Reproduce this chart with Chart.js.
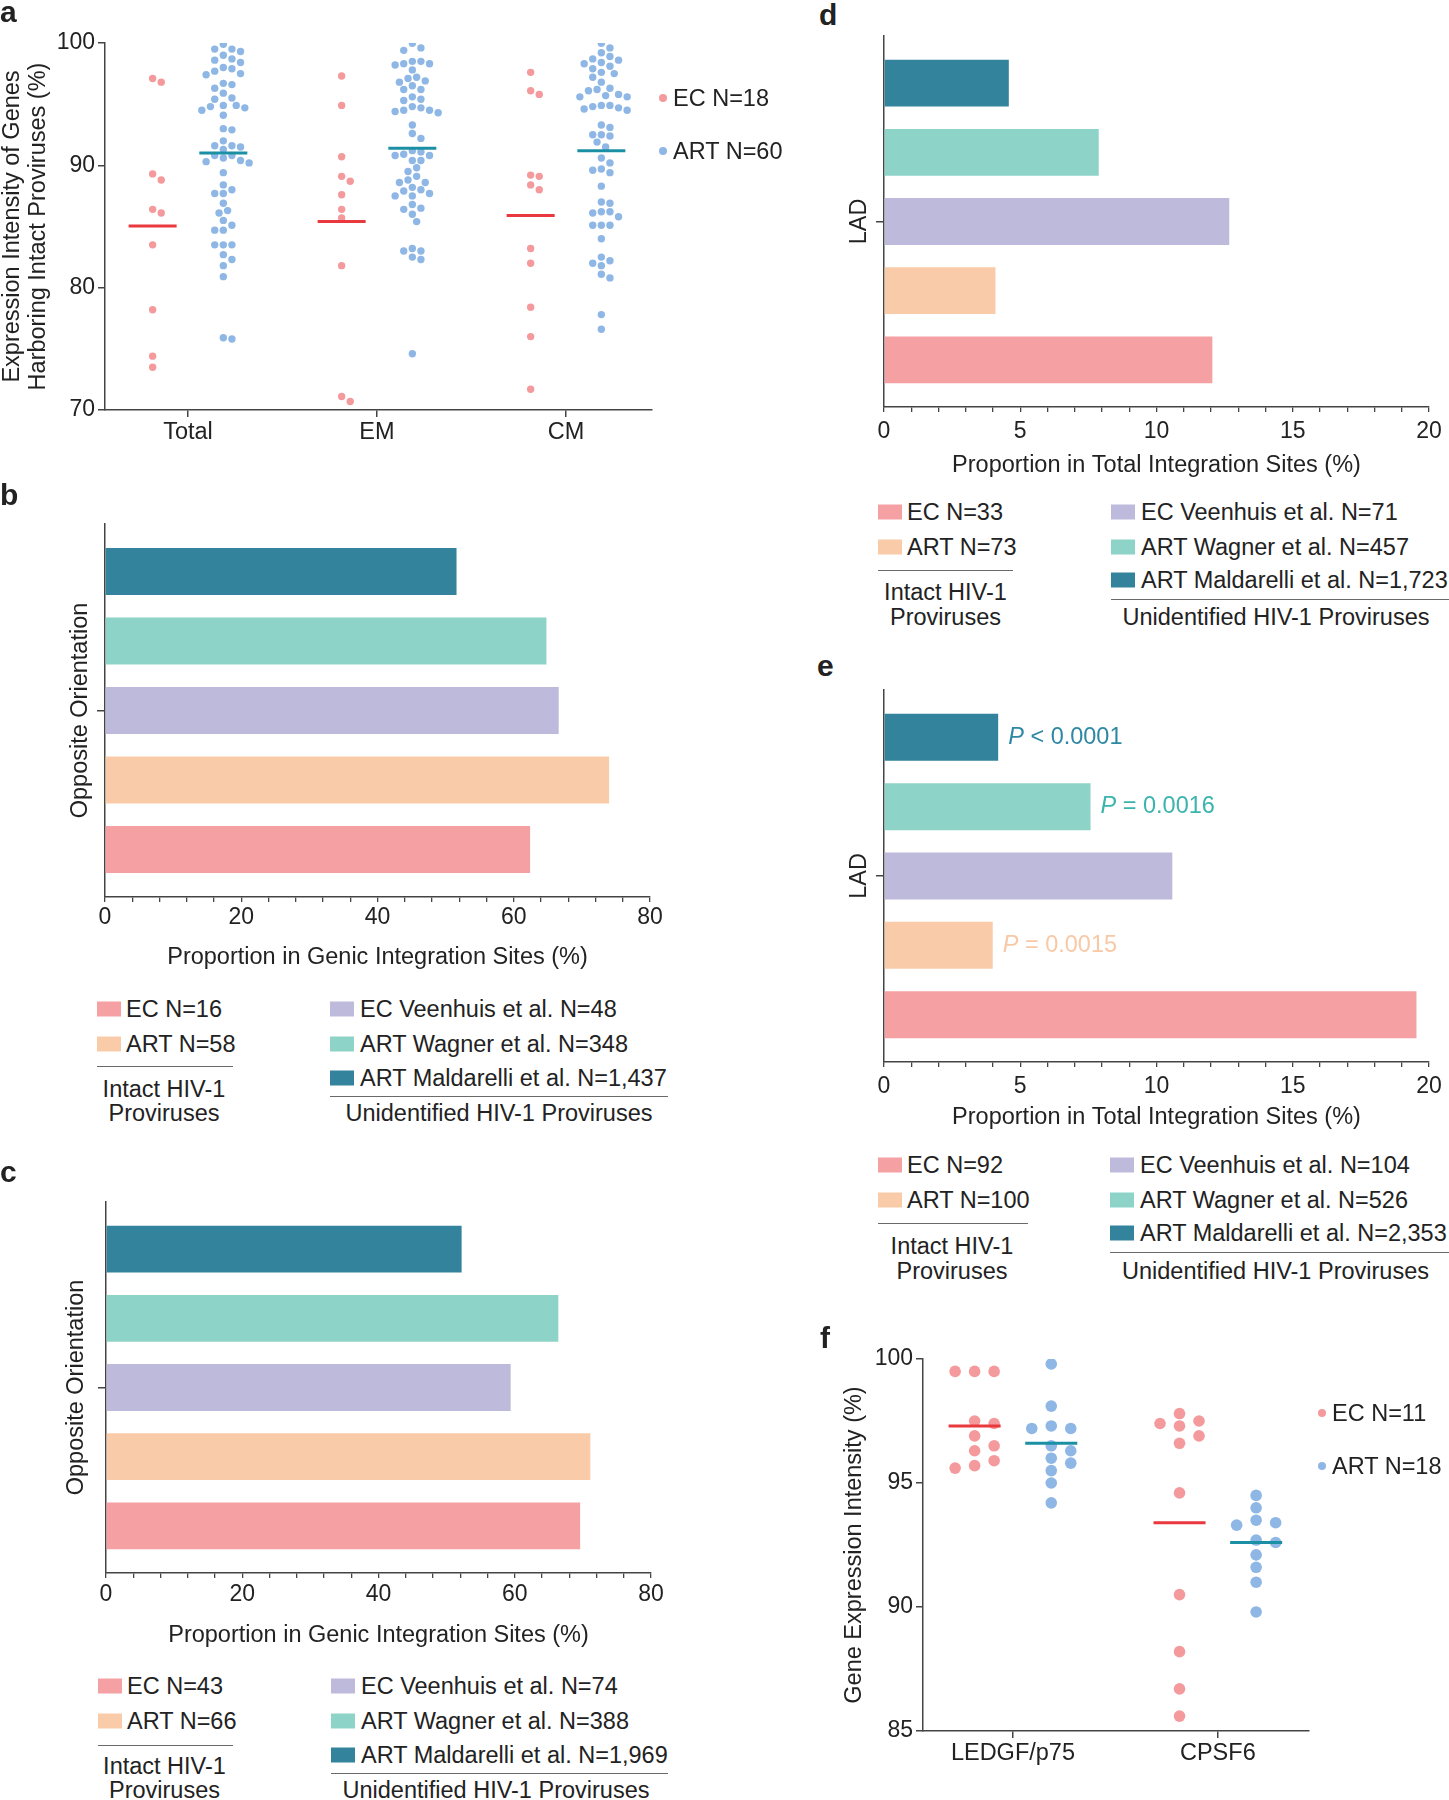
<!DOCTYPE html>
<html><head><meta charset="utf-8">
<script src="https://cdn.jsdelivr.net/npm/chart.js@4.4.1/dist/chart.umd.min.js"></script>
<style>
body{margin:0;background:#fff;}
#page{position:relative;width:1449px;height:1800px;overflow:hidden;font-family:'Liberation Sans',Arial,Helvetica,sans-serif;color:#222;}
.box{position:absolute;}
.lbl{position:absolute;font-size:23.5px;line-height:27px;white-space:nowrap;transform:translateY(-50%);}
.sw{position:absolute;width:24px;height:15px;transform:translateY(-50%);}
.rule{position:absolute;height:0;border-top:1.5px solid #6a6a6a;}
.dot{position:absolute;border-radius:50%;}
.letter{position:absolute;font-weight:bold;font-size:30px;line-height:30px;transform:translateY(-50%);}
</style></head>
<body><div id="page"></div>
<script>
// ---------------- DATA ----------------
// Panel a
const aCategories = ['Total', 'EM', 'CM'];
const aTotalEC = [96.8, 97.1, 88.8, 89.3, 86.1, 86.4, 83.5, 78.2, 74.4, 73.5];
const aTotalART = [99.9, 99.5, 99.5, 99.3, 99.0, 98.7, 98.6, 98.4, 98.0, 97.9, 97.7, 97.5, 97.4, 96.7, 96.6, 96.3, 95.9, 95.5, 95.4, 94.9, 94.7, 94.8, 94.9, 94.5, 94.1, 92.9, 93.0, 92.0, 91.6, 91.3, 91.5, 91.6, 90.8, 90.8, 90.6, 90.4, 90.2, 90.3, 89.4, 88.4, 88.0, 87.7, 87.7, 86.9, 86.3, 86.1, 85.5, 85.1, 84.7, 84.7, 83.5, 83.5, 83.5, 82.7, 82.3, 81.8, 80.9, 75.9, 75.8];
const aEMEC = [97.3, 94.9, 90.7, 88.7, 89.1, 87.6, 86.4, 85.7, 81.8, 70.7, 71.1];
const aEMART = [99.97, 99.4, 99.6, 98.5, 98.3, 97.8, 98.2, 98.3, 98.5, 97.1, 97.2, 96.9, 96.5, 96.8, 96.2, 96.2, 95.6, 95.3, 95.4, 94.7, 94.5, 94.3, 94.4, 94.5, 94.8, 93.3, 92.2, 92.6, 91.2, 90.9, 90.8, 90.4, 90.4, 90.8, 91.1, 89.8, 89.5, 89.1, 88.8, 88.6, 88.6, 88.0, 87.7, 87.5, 87.5, 87.9, 88.2, 86.5, 86.0, 86.4, 86.8, 85.4, 83.2, 83.0, 82.3, 82.5, 83.0, 74.6];
const aCMEC = [97.6, 95.8, 96.1, 89.1, 89.2, 88.0, 88.4, 83.2, 82.0, 78.4, 76.0, 71.7];
const aCMART = [99.6, 99.97, 98.9, 99.2, 98.6, 98.3, 97.9, 98.1, 98.4, 98.7, 97.5, 96.8, 97.2, 97.6, 96.3, 96.1, 95.7, 95.6, 95.6, 95.8, 96.2, 94.9, 94.7, 94.5, 94.6, 94.8, 94.9, 93.1, 93.3, 92.5, 92.4, 92.5, 91.9, 91.5, 90.6, 90.2, 89.7, 89.4, 89.6, 88.3, 86.9, 87.0, 86.2, 85.8, 86.1, 86.2, 85.1, 85.1, 85.1, 84.0, 82.2, 82.5, 81.8, 82.0, 80.8, 81.1, 77.8, 76.6];
const aMedianEC = [85.05, 85.4, 85.9];
const aMedianART = [91.0, 91.4, 91.2];
const aLegend = ['EC N=18', 'ART N=60'];
const aTicks = [70, 80, 90, 100];

// Panel f
const fCategories = ['LEDGF/p75', 'CPSF6'];
const fLedgfEC = [99.5, 99.5, 99.5, 97.4, 97.5, 96.5, 96.9, 96.3, 95.9, 95.6, 95.7];
const fLedgfART = [99.8, 98.1, 97.2, 97.2, 97.3, 96.5, 96.0, 96.3, 95.8, 95.5, 95.0, 94.2];
const fCpsfEC = [97.8, 97.3, 97.5, 97.4, 96.9, 96.6, 94.6, 90.5, 88.2, 86.7, 85.6];
const fCpsfART = [94.5, 94.0, 93.4, 93.3, 93.5, 92.6, 92.7, 92.1, 91.6, 91.0, 89.8];
const fMedianEC = [97.3, 93.4];
const fMedianART = [96.6, 92.6];
const fLegend = ['EC N=11', 'ART N=18'];
const fTicks = [85, 90, 95, 100];

// Bar panels b-e (order: EC, ART, EC Veenhuis, ART Wagner, ART Maldarelli)
const barCategory = ['Opposite Orientation'];
const ladCategory = ['LAD'];
const bValues = [62.4, 74.0, 66.6, 64.8, 51.6];
const cValues = [69.6, 71.1, 59.4, 66.4, 52.2];
const dValues = [12.05, 4.09, 12.67, 7.88, 4.58];
const eValues = [19.54, 3.99, 10.58, 7.58, 4.19];
const ePLabels = ['', 'P = 0.0015', '', 'P = 0.0016', 'P < 0.0001'];
const bLegend = ['EC N=16', 'ART N=58', 'EC Veenhuis et al. N=48', 'ART Wagner et al. N=348', 'ART Maldarelli et al. N=1,437'];
const cLegend = ['EC N=43', 'ART N=66', 'EC Veenhuis et al. N=74', 'ART Wagner et al. N=388', 'ART Maldarelli et al. N=1,969'];
const dLegend = ['EC N=33', 'ART N=73', 'EC Veenhuis et al. N=71', 'ART Wagner et al. N=457', 'ART Maldarelli et al. N=1,723'];
const eLegend = ['EC N=92', 'ART N=100', 'EC Veenhuis et al. N=104', 'ART Wagner et al. N=526', 'ART Maldarelli et al. N=2,353'];
const groupLabels = ['Intact HIV-1', 'Proviruses', 'Unidentified HIV-1 Proviruses'];

// ---------------- STYLE ----------------
const BAR_COLORS = ['#f5a0a3', '#f9cba8', '#bebadb', '#8ed3c7', '#32839b'];
const P_COLORS = ['#f5a0a3', '#f8c9a6', '#bebadb', '#3ab5ad', '#2e88a4'];
const DOT_EC = '#f49a9d', DOT_ART = '#8fb7e5';
const MED_EC = '#e9383e', MED_ART = '#1b8fa3';
const AX = '#444';
const FONT = "'Liberation Sans', Arial, Helvetica, sans-serif";
const TXT = 23.5, TICK = 23;
Chart.defaults.font.family = FONT;
Chart.defaults.font.size = TICK;
Chart.defaults.color = '#222';
Chart.defaults.animation = false;
Chart.defaults.plugins.legend.display = false;
Chart.defaults.plugins.tooltip.enabled = false;

const page = document.getElementById('page');

function makeCanvas(box) {
  const d = document.createElement('div');
  d.className = 'box';
  d.style.left = box.left + 'px'; d.style.top = box.top + 'px';
  d.style.width = box.width + 'px'; d.style.height = box.height + 'px';
  const c = document.createElement('canvas');
  c.width = box.width; c.height = box.height;
  c.style.width = box.width + 'px'; c.style.height = box.height + 'px';
  d.appendChild(c); page.appendChild(d);
  return c;
}
function padFor(box, area) {
  return { left: 0, top: area.T - box.top, right: box.left + box.width - area.R, bottom: 0 };
}
function txt(x, y, s, center) {
  const d = document.createElement('div');
  d.className = 'lbl'; d.textContent = s;
  d.style.left = x + 'px'; d.style.top = y + 'px';
  if (center) d.style.transform = 'translate(-50%,-50%)';
  page.appendChild(d); return d;
}
function swatch(x, y, color) {
  const d = document.createElement('div');
  d.className = 'sw'; d.style.left = x + 'px'; d.style.top = y + 'px'; d.style.background = color;
  page.appendChild(d);
}
function rule(x1, x2, y) {
  const d = document.createElement('div');
  d.className = 'rule'; d.style.left = x1 + 'px'; d.style.top = y + 'px'; d.style.width = (x2 - x1) + 'px';
  page.appendChild(d);
}
function dot(cx, cy, r, color) {
  const d = document.createElement('div');
  d.className = 'dot';
  d.style.left = (cx - r) + 'px'; d.style.top = (cy - r) + 'px';
  d.style.width = (2 * r) + 'px'; d.style.height = (2 * r) + 'px'; d.style.background = color;
  page.appendChild(d);
}
function letter(x, y, s) {
  const d = document.createElement('div');
  d.className = 'letter'; d.textContent = s; d.style.left = x + 'px'; d.style.top = y + 'px';
  page.appendChild(d);
}

// beeswarm offsets in pixels, computed from values through the y scale
function swarmOffsets(values, yScale, D, step) {
  const idx = values.map((v, i) => i).sort((a, b) => values[b] - values[a]);
  const placed = []; const off = new Array(values.length).fill(0);
  for (const i of idx) {
    const py = yScale.getPixelForValue(values[i]);
    let chosen = 0;
    for (let k = 0; k < 400; k++) {
      const cand = k === 0 ? 0 : (k % 2 ? 1 : -1) * Math.ceil(k / 2) * step;
      let ok = true;
      for (const p of placed) {
        const dx = cand - p.x, dy = py - p.y;
        if (dx * dx + dy * dy < D * D - 0.01) { ok = false; break; }
      }
      if (ok) { chosen = cand; break; }
    }
    placed.push({ x: chosen, y: py }); off[i] = chosen;
  }
  return off;
}

// ---------------- DOT PLOTS (a, f) ----------------
function dotPlot(box, area, opts) {
  const canvas = makeCanvas(box);
  const cats = opts.categories;
  const shift = 0.187, half = 0.127;
  const ecGroups = opts.ec.map((vals, i) => ({ values: vals, center: i + 1 - shift }));
  const artGroups = opts.art.map((vals, i) => ({ values: vals, center: i + 1 + shift }));
  const flat = gs => gs.flatMap(g => g.values.map(v => ({ x: g.center, y: v })));
  const datasets = [];
  opts.medEC.forEach((m, i) => datasets.push({ type: 'line', data: [{ x: i + 1 - shift - half, y: m }, { x: i + 1 - shift + half, y: m }], borderColor: MED_EC, borderWidth: 3, pointRadius: 0, order: -1 }));
  opts.medART.forEach((m, i) => datasets.push({ type: 'line', data: [{ x: i + 1 + shift - half, y: m }, { x: i + 1 + shift + half, y: m }], borderColor: MED_ART, borderWidth: 3, pointRadius: 0, order: -1 }));
  const ecIdx = datasets.length;
  datasets.push({ type: 'scatter', data: flat(ecGroups), backgroundColor: DOT_EC, pointRadius: opts.r, pointBorderWidth: 0, pointHoverRadius: opts.r });
  const artIdx = datasets.length;
  datasets.push({ type: 'scatter', data: flat(artGroups), backgroundColor: DOT_ART, pointRadius: opts.r, pointBorderWidth: 0, pointHoverRadius: opts.r });
  const yW = area.L - box.left, xH = box.top + box.height - area.B;
  const chart = new Chart(canvas, {
    type: 'scatter',
    data: { datasets },
    options: {
      responsive: false,
      layout: { padding: padFor(box, area) },
      scales: {
        x: {
          type: 'linear', min: opts.xmin, max: opts.xmax,
          afterBuildTicks: s => { s.ticks = cats.map((c, i) => ({ value: i + 1 })); },
          ticks: { autoSkip: false, maxRotation: 0, padding: opts.xPad, font: { size: TXT }, callback: v => cats[Math.round(v) - 1] || '' },
          grid: { drawOnChartArea: false, tickLength: 7, color: AX, lineWidth: 1.5 },
          border: { color: AX, width: 1.5 },
          afterFit: s => { s.height = xH; }
        },
        y: {
          min: opts.ymin, max: opts.ymax,
          afterBuildTicks: s => { s.ticks = opts.yTicks.map(v => ({ value: v })); },
          ticks: { padding: 3 },
          grid: { drawOnChartArea: false, tickLength: 7, color: AX, lineWidth: 1.5 },
          border: { color: AX, width: 1.5 },
          title: { display: true, text: opts.yTitle, font: { size: TXT, lineHeight: 1.08 }, padding: { top: opts.titlePad, bottom: 0 } },
          afterFit: s => { s.width = yW; }
        }
      }
    }
  });
  // second pass: beeswarm layout through the chart's scales
  const xs = chart.scales.x, ys = chart.scales.y;
  const ppu = xs.getPixelForValue(1) - xs.getPixelForValue(0);
  const build = gs => gs.flatMap(g => {
    const off = swarmOffsets(g.values, ys, opts.D, opts.step);
    return g.values.map((v, i) => ({ x: g.center + off[i] / ppu, y: v }));
  });
  chart.data.datasets[ecIdx].data = build(ecGroups);
  chart.data.datasets[artIdx].data = build(artGroups);
  chart.update('none');
  return chart;
}

dotPlot({ left: 0, top: 0, width: 800, height: 450 }, { L: 105, T: 43, R: 652, B: 410 }, {
  categories: aCategories,
  ec: [aTotalEC, aEMEC, aCMEC], art: [aTotalART, aEMART, aCMART],
  medEC: aMedianEC, medART: aMedianART,
  xmin: 0.561, xmax: 3.455, ymin: 70, ymax: 100, yTicks: aTicks,
  yTitle: ['Expression Intensity of Genes', 'Harboring Intact Proviruses (%)'], titlePad: 0,
  r: 3.7, D: 8.4, step: 4.3, xPad: 1
});
dotPlot({ left: 830, top: 1300, width: 619, height: 500 }, { L: 923, T: 1359, R: 1309, B: 1731 }, {
  categories: fCategories,
  ec: [fLedgfEC, fCpsfEC], art: [fLedgfART, fCpsfART],
  medEC: fMedianEC, medART: fMedianART,
  xmin: 0.561, xmax: 2.445, ymin: 85, ymax: 100, yTicks: fTicks,
  yTitle: 'Gene Expression Intensity (%)', titlePad: 12,
  r: 5.8, D: 12, step: 19.5, xPad: 1
});

// dot legends
aLegend.forEach((s, i) => { const y = [98, 151][i]; dot(663, y, 4, i ? DOT_ART : DOT_EC); txt(673, y, s); });
fLegend.forEach((s, i) => { const y = [1413, 1466][i]; dot(1321.5, y, 4, i ? DOT_ART : DOT_EC); txt(1332, y, s); });

// ---------------- BAR PANELS (b-e) ----------------
const pLabelPlugin = {
  id: 'plabels',
  afterDatasetsDraw(chart, args, opts) {
    if (!opts || !opts.labels) return;
    const ctx = chart.ctx;
    chart.data.datasets.forEach((ds, di) => {
      const s = opts.labels[di]; if (!s) return;
      const bar = chart.getDatasetMeta(di).data[0];
      const x = bar.x + 10, y = bar.y;
      ctx.save();
      ctx.textBaseline = 'middle'; ctx.textAlign = 'left';
      ctx.fillStyle = opts.colors[di];
      ctx.font = 'italic ' + TXT + 'px ' + FONT;
      ctx.fillText(s.charAt(0), x, y);
      const w = ctx.measureText(s.charAt(0)).width;
      ctx.font = TXT + 'px ' + FONT;
      ctx.fillText(s.slice(1), x + w, y);
      ctx.restore();
    });
  }
};

function barPanel(box, area, opts) {
  const canvas = makeCanvas(box);
  const order = [4, 3, 2, 1, 0]; // top to bottom
  const yW = area.L - box.left, xH = box.top + box.height - area.B;
  return new Chart(canvas, {
    type: 'bar',
    plugins: [pLabelPlugin],
    data: {
      labels: opts.category,
      datasets: order.map(i => ({ label: opts.legend[i], data: [opts.values[i]], backgroundColor: BAR_COLORS[i], borderWidth: 0, barPercentage: 0.677, categoryPercentage: 0.932 }))
    },
    options: {
      responsive: false, indexAxis: 'y',
      layout: { padding: padFor(box, area) },
      plugins: { plabels: opts.pLabels ? { labels: order.map(i => opts.pLabels[i]), colors: order.map(i => P_COLORS[i]) } : {} },
      scales: {
        x: {
          type: 'linear', min: 0, max: opts.max,
          ticks: { stepSize: opts.minor, autoSkip: false, maxRotation: 0, padding: opts.xPad, callback: v => (Math.abs(v % opts.major) < 1e-6 ? String(v) : '') },
          grid: { drawOnChartArea: false, tickLength: 5, color: AX, lineWidth: 1.3 },
          border: { color: AX, width: 1.5 },
          title: { display: true, text: opts.xTitle, padding: { top: 0, bottom: 0 }, font: { size: TXT, lineHeight: 1.2 } },
          afterFit: s => { s.height = xH; }
        },
        y: {
          type: 'category', offset: true,
          ticks: { callback: () => '', padding: 0 },
          grid: { offset: false, drawOnChartArea: false, tickLength: 8, color: AX, lineWidth: 1.5 },
          border: { color: AX, width: 1.5 },
          title: { display: true, text: opts.category[0], padding: { top: opts.titlePad, bottom: 0 }, font: { size: TXT, lineHeight: 1.2 } },
          afterFit: s => { s.width = yW; }
        }
      }
    }
  });
}

barPanel({ left: 0, top: 500, width: 700, height: 472 }, { L: 105, T: 524, R: 650, B: 897 }, {
  category: barCategory, values: bValues, legend: bLegend, max: 80, minor: 4, major: 20,
  xTitle: 'Proportion in Genic Integration Sites (%)', titlePad: 66, xPad: 2
});
barPanel({ left: 0, top: 1180, width: 700, height: 470 }, { L: 106, T: 1202, R: 651, B: 1573 }, {
  category: barCategory, values: cValues, legend: cLegend, max: 80, minor: 4, major: 20,
  xTitle: 'Proportion in Genic Integration Sites (%)', titlePad: 62.7, xPad: 3
});
barPanel({ left: 840, top: 20, width: 609, height: 460 }, { L: 884, T: 36, R: 1429, B: 407 }, {
  category: ladCategory, values: dValues, legend: dLegend, max: 20, minor: 1, major: 5,
  xTitle: 'Proportion in Total Integration Sites (%)', titlePad: 5.4, xPad: 5.5
});
barPanel({ left: 840, top: 670, width: 609, height: 462 }, { L: 884, T: 690, R: 1429, B: 1062 }, {
  category: ladCategory, values: eValues, legend: eLegend, max: 20, minor: 1, major: 5,
  xTitle: 'Proportion in Total Integration Sites (%)', titlePad: 5.4, xPad: 6.3, pLabels: ePLabels
});

// bar legends
function barLegend(labels, L) {
  [0, 1].forEach(i => { swatch(L.lx, L.rows[i], BAR_COLORS[i]); txt(L.lx + 29, L.rows[i], labels[i]); });
  [2, 3, 4].forEach((i, k) => { swatch(L.rx, L.rows[k], BAR_COLORS[i]); txt(L.rx + 30, L.rows[k], labels[i]); });
  rule(L.lineL[0], L.lineL[1], L.lineL[2]);
  rule(L.lineR[0], L.lineR[1], L.lineR[2]);
  txt(L.intact[0], L.intact[1], groupLabels[0], true);
  txt(L.intact[0], L.intact[2], groupLabels[1], true);
  txt(L.unid[0], L.unid[1], groupLabels[2], true);
}
barLegend(bLegend, { lx: 97, rx: 330, rows: [1009, 1044, 1078], lineL: [97, 233, 1066], lineR: [330, 668, 1096], intact: [164, 1089, 1113], unid: [499, 1113] });
barLegend(cLegend, { lx: 98, rx: 331, rows: [1686, 1721, 1755], lineL: [98, 233, 1745], lineR: [331, 668, 1773], intact: [164.5, 1766, 1790], unid: [496, 1790] });
barLegend(dLegend, { lx: 878, rx: 1111, rows: [512, 547, 580], lineL: [878, 1013, 570], lineR: [1111, 1449, 599], intact: [945.5, 592, 617], unid: [1276, 617] });
barLegend(eLegend, { lx: 878, rx: 1110, rows: [1165, 1200, 1233], lineL: [878, 1028, 1223], lineR: [1110, 1449, 1252], intact: [952, 1246, 1271], unid: [1275.5, 1271] });

// panel letters
letter(0, 12.4, 'a'); letter(0, 494.5, 'b'); letter(0, 1172.4, 'c');
letter(819, 15, 'd'); letter(817, 666.4, 'e'); letter(820, 1338, 'f');
</script>
</body></html>
